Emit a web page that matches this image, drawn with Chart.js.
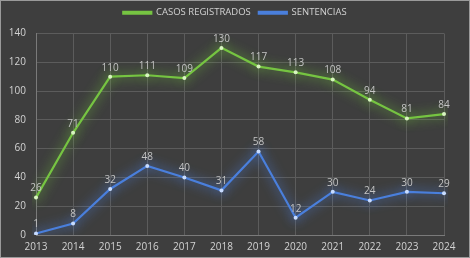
<!DOCTYPE html>
<html>
<head>
<meta charset="utf-8">
<script src="https://cdn.jsdelivr.net/npm/chart.js@4.4.1/dist/chart.umd.min.js"></script>
<style>
  html, body { margin: 0; padding: 0; background: #3e3e3e; }
  #wrap { width: 470px; height: 258px; position: relative; }
</style>
</head>
<body>
<div id="wrap"><canvas id="c" width="470" height="258"></canvas></div>
<script>
// data
const years = ['2013','2014','2015','2016','2017','2018','2019','2020','2021','2022','2023','2024'];
const casos = [26, 71, 110, 111, 109, 130, 117, 113, 108, 94, 81, 84];
const sentencias = [1, 8, 32, 48, 40, 31, 58, 12, 30, 24, 30, 29];
const yTicks = [0, 20, 40, 60, 80, 100, 120, 140];

const GREEN = '#76c442';
const BLUE = '#4a7fdc';
const TXT = '#d2d2d2';

// background + thin frame
const bgPlugin = {
  id: 'bg',
  beforeDraw(chart) {
    const { ctx, width, height } = chart;
    ctx.save();
    ctx.fillStyle = '#3e3e3e';
    ctx.fillRect(0, 0, width, height);
    ctx.strokeStyle = '#9a9a9a';
    ctx.lineWidth = 1;
    ctx.strokeRect(0.5, 0.5, width - 1, height - 1);
    ctx.restore();
  }
};

// soft glow under each line
const glowPlugin = {
  id: 'glow',
  beforeDatasetDraw(chart, args) {
    const ds = chart.data.datasets[args.index];
    chart.ctx.save();
    chart.ctx.shadowColor = ds.glow;
    chart.ctx.shadowBlur = 12;
  },
  afterDatasetDraw(chart) {
    chart.ctx.restore();
  }
};

// value labels above points
const labelPlugin = {
  id: 'vals',
  afterDatasetsDraw(chart) {
    const ctx = chart.ctx;
    ctx.save();
    ctx.font = '10px "Open Sans", sans-serif';
    ctx.fillStyle = '#c4c4c4';
    ctx.textAlign = 'center';
    ctx.textBaseline = 'bottom';
    chart.data.datasets.forEach((ds, i) => {
      chart.getDatasetMeta(i).data.forEach((pt, j) => {
        ctx.fillText(String(ds.data[j]), pt.x, pt.y - 4);
      });
    });
    ctx.restore();
  }
};

new Chart(document.getElementById('c').getContext('2d'), {
  type: 'line',
  data: {
    labels: years,
    datasets: [
      { label: 'CASOS REGISTRADOS', data: casos, borderColor: GREEN, backgroundColor: GREEN,
        glow: 'rgba(120,210,60,1)', borderWidth: 2.2, tension: 0,
        pointRadius: 2, pointBackgroundColor: '#d8f5c0', pointBorderWidth: 0 },
      { label: 'SENTENCIAS', data: sentencias, borderColor: BLUE, backgroundColor: BLUE,
        glow: 'rgba(80,140,255,1)', borderWidth: 2.2, tension: 0,
        pointRadius: 2, pointBackgroundColor: '#c8dcff', pointBorderWidth: 0 },
    ],
  },
  options: {
    responsive: false, animation: false,
    layout: { padding: { left: 0, right: 0, top: 0, bottom: 0 } },
    plugins: {
      legend: {
        labels: { color: TXT, boxWidth: 28, boxHeight: 2, padding: 8,
          font: { size: 9.5, family: '"Open Sans", sans-serif' } },
      },
      tooltip: { enabled: false },
    },
    scales: {
      x: {
        offset: false,
        grid: { color: '#5c5c5c', drawTicks: false },
        border: { color: '#7a7a7a' },
        ticks: { color: TXT, padding: 6, maxRotation: 0, font: { size: 10, family: '"Open Sans", sans-serif' } },
        afterFit(s) { s.height = 23; },
      },
      // empty gap between legend and plot
      gap: {
        type: 'category', position: 'top', display: true,
        grid: { display: false }, border: { display: false }, ticks: { display: false },
        afterFit(s) { s.height = 6; },
      },
      y: {
        min: 0, max: 140,
        afterBuildTicks(s) { s.ticks = yTicks.map(v => ({ value: v })); },
        grid: { color: '#5c5c5c', drawTicks: false },
        border: { color: '#7a7a7a' },
        ticks: { color: TXT, padding: 10, font: { size: 10, family: '"Open Sans", sans-serif' } },
        afterFit(s) { s.width = 36; },
      },
      // empty right gutter so the legend centres on the full width
      pad: {
        position: 'right', display: true, min: 0, max: 140,
        grid: { display: false }, border: { display: false }, ticks: { display: false },
        afterFit(s) { s.width = 26; },
      },
    },
  },
  plugins: [bgPlugin, glowPlugin, labelPlugin],
});
</script>
</body>
</html>
